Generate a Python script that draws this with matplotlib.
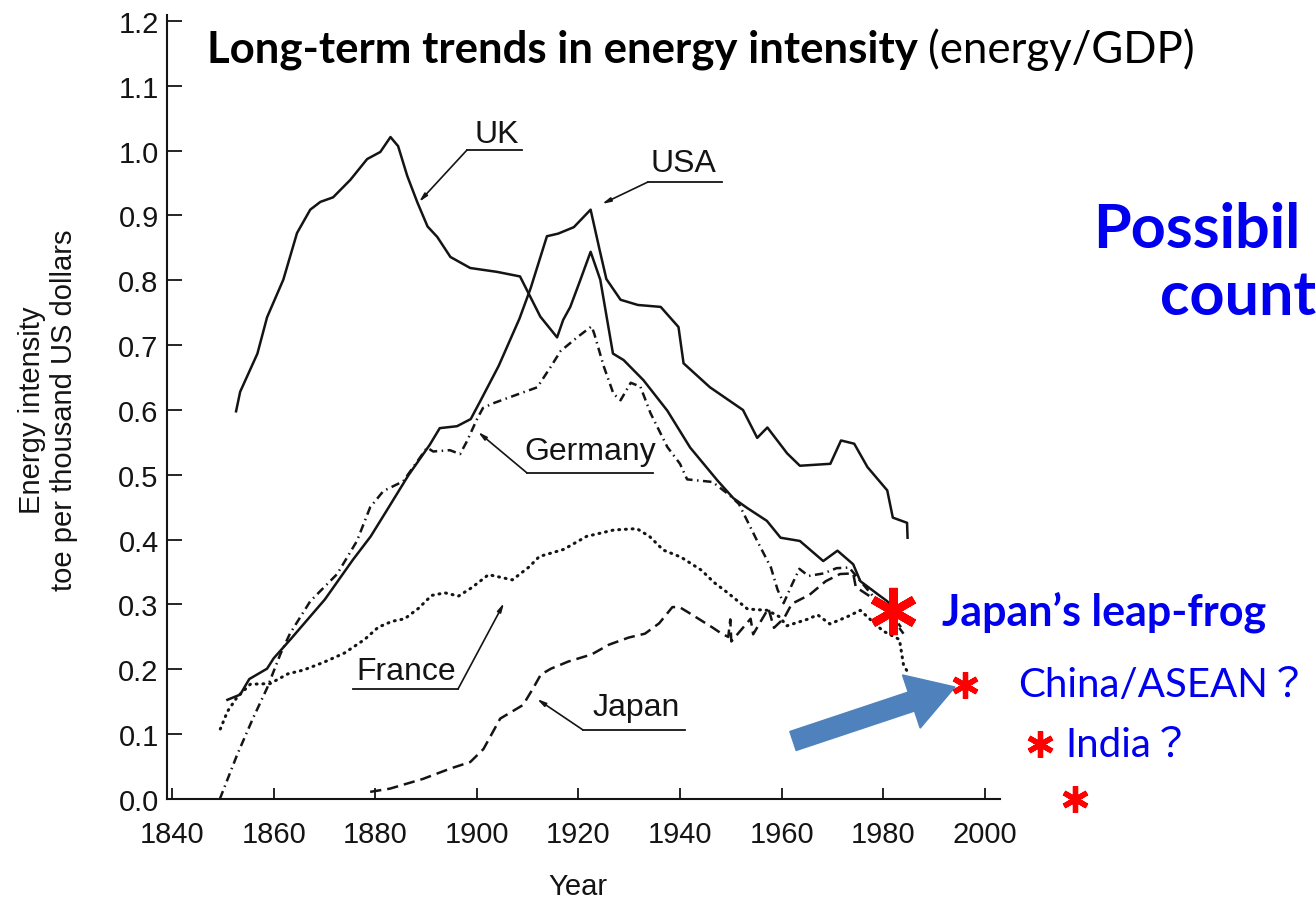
import matplotlib
matplotlib.use("Agg")
import matplotlib.pyplot as plt
import matplotlib.patches as mpatches
from matplotlib.transforms import IdentityTransform
from matplotlib.lines import Line2D

# ---------------- data ----------------
uk_years = [1852.6, 1853.4, 1856.8, 1858.7, 1861.9, 1864.6, 1867.2, 1869.2, 1871.7, 1875.1,
            1878.4, 1881.0, 1883.0, 1884.5, 1886.3, 1888.3, 1890.3, 1892.2, 1894.8, 1898.7,
            1904.0, 1908.5, 1912.5, 1915.8, 1917.0, 1918.4, 1920.4, 1922.4, 1924.3, 1926.8,
            1928.9, 1932.8, 1937.5, 1942.0, 1947.4, 1950.5, 1953.2, 1957.1, 1959.8, 1963.6,
            1968.2, 1971.0, 1974.1, 1975.5, 1978.9, 1980.8, 1983.5]
uk_vals = [0.598, 0.628, 0.687, 0.743, 0.801, 0.873, 0.909, 0.921, 0.928, 0.955,
           0.987, 0.998, 1.021, 1.007, 0.961, 0.920, 0.883, 0.867, 0.836, 0.819,
           0.813, 0.806, 0.744, 0.712, 0.739, 0.759, 0.801, 0.844, 0.801, 0.687,
           0.677, 0.646, 0.599, 0.542, 0.491, 0.464, 0.449, 0.429, 0.403, 0.398,
           0.367, 0.383, 0.362, 0.336, 0.316, 0.305, 0.280]

usa_years = [1850.9, 1853.4, 1855.2, 1858.7, 1860.0, 1863.4, 1870.1, 1875.6, 1879.1, 1882.5,
             1886.5, 1890.7, 1892.7, 1896.1, 1898.8, 1900.9, 1904.3, 1908.4, 1910.6, 1913.8,
             1916.0, 1919.1, 1922.4, 1924.2, 1925.5, 1928.3, 1931.7, 1936.2, 1939.7, 1940.7,
             1945.9, 1952.4, 1955.2, 1957.2, 1961.1, 1963.6, 1969.6, 1971.7, 1974.3, 1976.9,
             1980.8, 1981.9, 1984.7, 1984.8]
usa_vals = [0.153, 0.161, 0.185, 0.201, 0.217, 0.247, 0.308, 0.369, 0.405, 0.448,
            0.499, 0.546, 0.572, 0.575, 0.586, 0.617, 0.668, 0.741, 0.788, 0.868,
            0.872, 0.882, 0.909, 0.846, 0.802, 0.770, 0.762, 0.759, 0.728, 0.672,
            0.635, 0.600, 0.557, 0.573, 0.533, 0.514, 0.517, 0.553, 0.548, 0.512,
            0.476, 0.434, 0.426, 0.403]

ger_years = [1849.4, 1852.8, 1855.9, 1858.7, 1861.3, 1863.2, 1867.2, 1872.5, 1876.4, 1879.0,
             1881.6, 1885.5, 1890.2, 1891.4, 1894.7, 1896.7, 1898.0, 1900.1, 1901.2, 1903.1,
             1908.0, 1911.9, 1914.5, 1916.5, 1919.9, 1922.6, 1923.1, 1925.0, 1926.9, 1928.3,
             1930.3, 1932.2, 1934.2, 1937.5, 1940.0, 1941.4, 1946.4, 1949.7, 1951.6, 1955.2,
             1957.9, 1959.2, 1960.4, 1962.0, 1963.5, 1965.3, 1968.3, 1970.8, 1973.3, 1975.2,
             1978.2, 1981.1, 1984.0]
ger_vals = [0.000, 0.068, 0.124, 0.171, 0.223, 0.255, 0.305, 0.347, 0.398, 0.450,
            0.475, 0.490, 0.542, 0.536, 0.538, 0.532, 0.551, 0.587, 0.603, 0.610,
            0.624, 0.635, 0.666, 0.691, 0.713, 0.729, 0.718, 0.667, 0.625, 0.615,
            0.642, 0.636, 0.595, 0.543, 0.517, 0.493, 0.489, 0.469, 0.455, 0.398,
            0.357, 0.323, 0.302, 0.330, 0.355, 0.344, 0.348, 0.356, 0.357, 0.339,
            0.311, 0.286, 0.255]

fra_years = [1849.5, 1850.9, 1852.8, 1855.4, 1859.3, 1862.8, 1865.9, 1869.9, 1873.9, 1877.9,
             1880.6, 1883.3, 1885.8, 1888.5, 1891.1, 1893.7, 1896.4, 1899.0, 1902.3, 1907.0,
             1910.3, 1912.3, 1917.1, 1921.6, 1927.0, 1931.5, 1934.0, 1936.7, 1940.2, 1944.2,
             1946.7, 1949.4, 1953.3, 1957.2, 1959.6, 1961.0, 1965.0, 1967.1, 1969.5, 1972.9,
             1975.5, 1978.0, 1980.0, 1983.2, 1984.0, 1984.8]
fra_vals = [0.108, 0.135, 0.157, 0.177, 0.178, 0.193, 0.199, 0.211, 0.225, 0.246,
            0.265, 0.274, 0.278, 0.294, 0.314, 0.318, 0.313, 0.326, 0.346, 0.338,
            0.358, 0.374, 0.385, 0.405, 0.415, 0.417, 0.405, 0.384, 0.373, 0.353,
            0.334, 0.318, 0.293, 0.291, 0.281, 0.267, 0.277, 0.284, 0.270, 0.281,
            0.291, 0.273, 0.259, 0.246, 0.207, 0.196]

jap_years = [1879.0, 1882.9, 1889.4, 1894.8, 1898.7, 1901.3, 1904.6, 1909.1, 1911.1, 1912.6,
             1914.6, 1918.0, 1922.6, 1926.0, 1929.9, 1933.1, 1935.9, 1938.5, 1939.9, 1941.8,
             1946.3, 1948.2, 1949.5, 1949.9, 1950.1, 1953.9, 1954.4, 1957.4, 1958.5, 1960.5,
             1962.0, 1965.5, 1968.7, 1971.5, 1974.1, 1974.6, 1977.7, 1981.1, 1983.5]
jap_vals = [0.011, 0.016, 0.031, 0.047, 0.057, 0.077, 0.124, 0.145, 0.171, 0.192,
            0.201, 0.212, 0.223, 0.238, 0.249, 0.255, 0.271, 0.296, 0.296, 0.287,
            0.265, 0.255, 0.250, 0.277, 0.243, 0.278, 0.254, 0.294, 0.264, 0.279,
            0.301, 0.315, 0.336, 0.347, 0.348, 0.327, 0.311, 0.291, 0.265]

x_ticks = [1840, 1860, 1880, 1900, 1920, 1940, 1960, 1980, 2000]
y_ticks = [0.0, 0.1, 0.2, 0.3, 0.4, 0.5, 0.6, 0.7, 0.8, 0.9, 1.0, 1.1, 1.2]

# ---------------- figure ----------------
W, H = 1316, 904
fig = plt.figure(figsize=(W / 100, H / 100), dpi=100)
fig.patch.set_facecolor("white")

ax = fig.add_axes([167 / W, 104 / H, 833 / W, 784.5 / H])
ax.set_xlim(1839, 2003)
ax.set_ylim(0, 1.21)

ink = "#141414"
lw = 1.8
ax.plot(uk_years, uk_vals, color=ink, lw=lw, solid_joinstyle="round")
ax.plot(usa_years, usa_vals, color=ink, lw=lw, solid_joinstyle="round")
ax.plot(ger_years, ger_vals, color=ink, lw=lw, linestyle=(0, (3.4, 1.8, 0.6, 1.8)))
ax.plot(fra_years, fra_vals, color=ink, lw=2.2, linestyle=(0, (0.3, 1.9)),
        dash_capstyle="round")
ax.plot(jap_years, jap_vals, color=ink, lw=lw, linestyle=(0, (4.5, 2.4)))

for s in ["top", "right"]:
    ax.spines[s].set_visible(False)
for s in ["left", "bottom"]:
    ax.spines[s].set_color(ink)
    ax.spines[s].set_linewidth(1.5)

lab_font = "Liberation Sans"
ax.set_xticks(x_ticks)
ax.set_xticklabels([str(t) for t in x_ticks])
ax.set_yticks(y_ticks)
ax.set_yticklabels([f"{t:.1f}" for t in y_ticks])
ax.tick_params(axis="x", direction="in", length=8, width=1.3, pad=15,
               labelsize=21, colors=ink)
ax.tick_params(axis="y", direction="in", length=11, width=1.3, pad=6,
               labelsize=21, colors=ink)
for t in ax.get_xticklabels() + ax.get_yticklabels():
    t.set_fontfamily(lab_font)

fig.text(48 / W, 1 - 410 / H, "Energy intensity\ntoe per thousand US dollars",
         rotation=90, ha="center", va="center", multialignment="center",
         fontsize=21, family=lab_font, color=ink, linespacing=1.15)
fig.text(578 / W, 1 - 887 / H, "Year", ha="center", va="center",
         fontsize=21, family=lab_font, color=ink)

# ---------------- in-chart labels with leaders ----------------
def px2d(px, py):
    return 1840 + (px - 172) / 5.08, (800 - py) / 648.3

def leader(label, text_px, ul_from, ul_to, tip):
    tx, ty = px2d(*text_px)
    ax.text(tx, ty, label, ha="center", va="center", fontsize=23,
            family=lab_font, color=ink)
    a = px2d(*ul_from)
    b = px2d(*ul_to)
    ax.plot([a[0], b[0]], [a[1], b[1]], color=ink, lw=1.3)
    t = px2d(*tip)
    ax.annotate("", xy=t, xytext=a,
                arrowprops=dict(arrowstyle="-|>,head_length=0.5,head_width=0.12",
                                color=ink, lw=1.2, shrinkA=0, shrinkB=0))

leader("UK", (497, 135), (467, 151), (522, 151), (419, 203))
leader("USA", (683, 164), (648, 183), (722, 183), (602, 205))
leader("Germany", (590, 452), (527, 474), (653, 474), (478, 433))
leader("France", (406, 672), (458, 690), (353, 690), (504, 604))
leader("Japan", (636, 708), (583, 731), (685, 731), (537, 700))

# ---------------- title ----------------
title_font = "Lato"
t1 = fig.text(207 / W, 1 - 63 / H, "Long-term trends in energy intensity",
              fontsize=31.5, fontweight="bold", family=title_font, color="black",
              va="baseline", ha="left")
fig.canvas.draw()
bb = t1.get_window_extent(renderer=fig.canvas.get_renderer())
fig.text((bb.x1 + 10) / W, 1 - 63 / H, "(energy/GDP)", fontsize=31.5,
         family=title_font, color="black", va="baseline", ha="left")

# ---------------- right-hand annotations ----------------
blue = "#0000EE"
red = "#FF0000"
fig.text(1093 / W, 1 - 248 / H, "Possibil", fontsize=44, fontweight="bold",
         family=title_font, color=blue, va="baseline", ha="left")
fig.text(1160 / W, 1 - 315 / H, "count", fontsize=44, fontweight="bold",
         family=title_font, color=blue, va="baseline", ha="left")

fig.text(942 / W, 1 - 612 / H, "Japan\u2019s leap-frog", fontsize=31,
         fontweight="bold", family=title_font, color=blue, va="center", ha="left")
fig.text(1018 / W, 1 - 686 / H, "China/ASEAN\uff1f", fontsize=29,
         family=[title_font, "Noto Sans CJK JP"], color=blue, va="center", ha="left")
fig.text(1065 / W, 1 - 745 / H, "India\uff1f", fontsize=29,
         family=[title_font, "Noto Sans CJK JP"], color=blue, va="center", ha="left")

def asterisk(px, py, size, mew):
    fig.add_artist(Line2D([px], [H - py], marker=(6, 2, 0), markersize=size,
                          markeredgewidth=mew, color=red, linestyle="none",
                          transform=IdentityTransform()))

asterisk(893, 612, 34, 6)
asterisk(965, 686, 19, 3.8)
asterisk(1040, 745, 19, 3.8)
asterisk(1075, 800, 19, 3.8)

arrow = mpatches.FancyArrow(793, H - 742, 955 - 793, 742 - 688, width=20,
                            head_width=56, head_length=46,
                            length_includes_head=True, color="#4F81BD",
                            transform=IdentityTransform())
fig.add_artist(arrow)

fig.savefig("out.png", dpi=100)
